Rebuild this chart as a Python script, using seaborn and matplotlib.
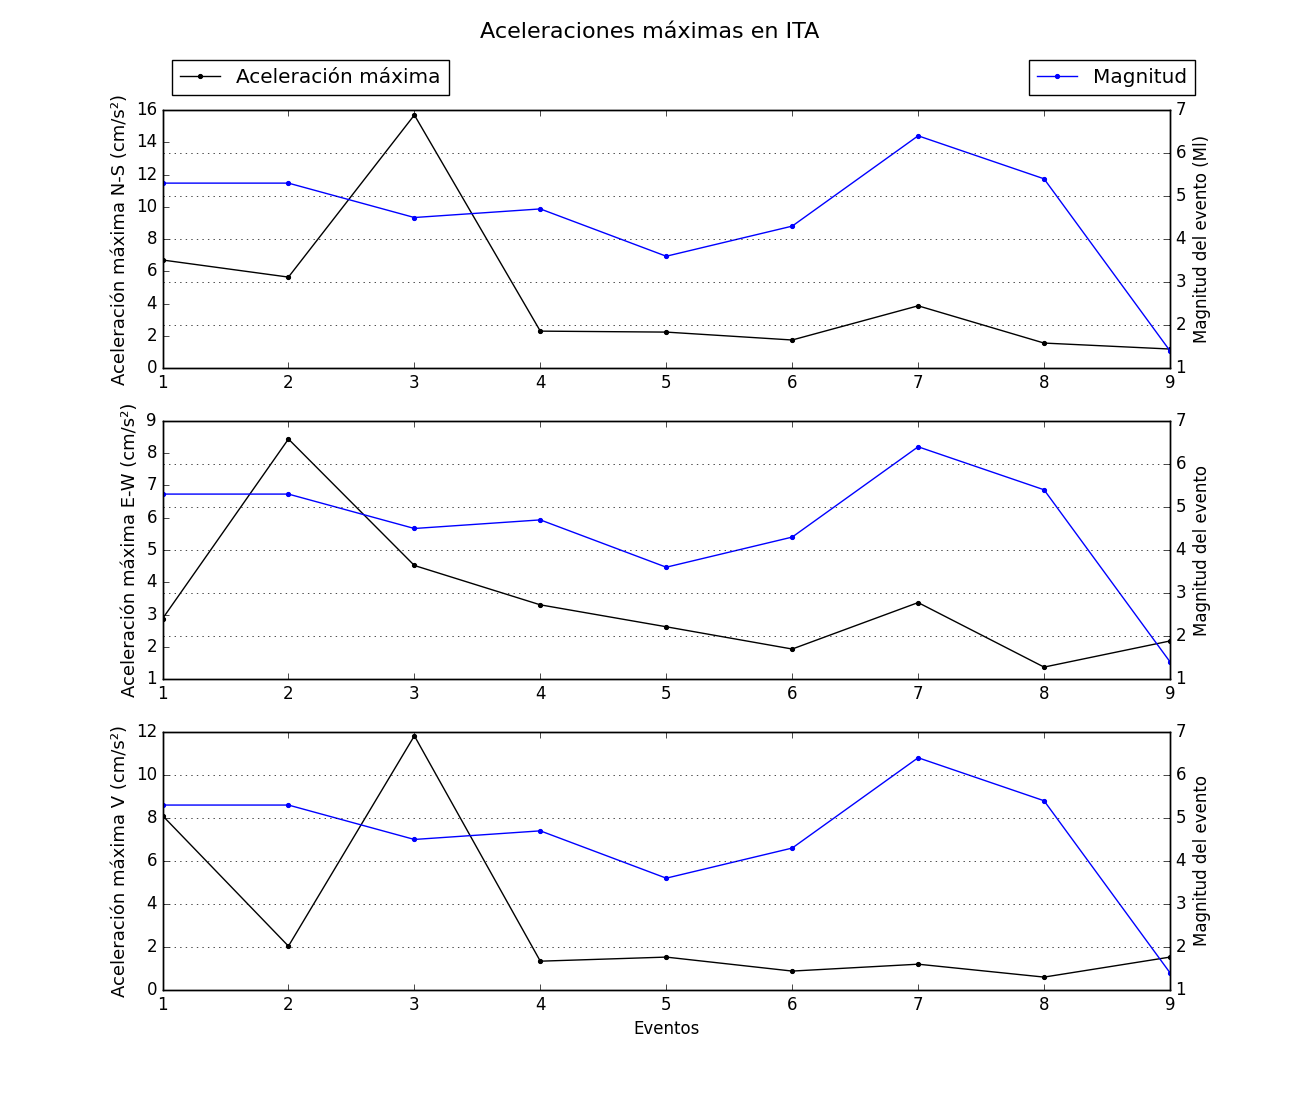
import seaborn as sns
import matplotlib.pyplot as plt
import pandas as pd

# Data
eventos = [1, 2, 3, 4, 5, 6, 7, 8, 9]
magnitud = [5.3, 5.3, 4.5, 4.7, 3.6, 4.3, 6.4, 5.4, 1.4]
acel_ns = [6.70, 5.64, 15.69, 2.29, 2.23, 1.74, 3.86, 1.55, 1.18]
acel_ew = [2.87, 8.44, 4.52, 3.30, 2.62, 1.93, 3.37, 1.37, 2.18]
acel_v = [8.11, 2.04, 11.82, 1.34, 1.53, 0.88, 1.20, 0.60, 1.53]

data = pd.DataFrame({
    "Evento": eventos,
    "Magnitud": magnitud,
    "NS": acel_ns,
    "EW": acel_ew,
    "V": acel_v,
})

# Old matplotlib look
plt.style.use("classic")
plt.rcParams["font.family"] = ["DejaVu Sans"]

fig, axs = plt.subplots(3, 1, figsize=(13, 11), dpi=100)
fig.patch.set_facecolor("white")
fig.subplots_adjust(left=0.125, right=0.9, top=0.9, bottom=0.1, hspace=0.205)

panels = [
    ("NS", "Aceleración máxima N-S (cm/s²)", (0, 16), "Magnitud del evento (Ml)"),
    ("EW", "Aceleración máxima E-W (cm/s²)", (1, 9), "Magnitud del evento"),
    ("V", "Aceleración máxima V (cm/s²)", (0, 12), "Magnitud del evento"),
]

for i, (col, ylabel, ylim, rlabel) in enumerate(panels):
    ax = axs[i]
    ax2 = ax.twinx()

    sns.lineplot(data=data, x="Evento", y=col, marker=".", color="k", linewidth=1,
                 markeredgecolor="k", markersize=6, label="Aceleración máxima",
                 legend=False, ax=ax)
    sns.lineplot(data=data, x="Evento", y="Magnitud", marker=".", color="b", linewidth=1,
                 markeredgecolor="b", markersize=6, label="Magnitud",
                 legend=False, ax=ax2)

    ax.set_xlim(1, 9)
    ax.set_xticks(eventos)
    ax.set_ylim(*ylim)
    ax.set_ylabel(ylabel, fontsize=13)
    ax.set_xlabel("Eventos" if i == 2 else "", fontsize=12)
    ax.tick_params(right=False)

    ax2.set_ylim(1, 7)
    ax2.set_ylabel(rlabel, fontsize=12)
    ax2.tick_params(left=False)
    ax2.grid(True, axis="y", linestyle=":", color="k")
    ax2.grid(False, axis="x")
    ax.grid(False)

    for a in (ax, ax2):
        if a.get_legend() is not None:
            a.get_legend().remove()

    if i == 0:
        ax.legend(loc="lower left", bbox_to_anchor=(0.0099, 1.058), borderaxespad=0,
                  numpoints=1, fontsize=14.4, fancybox=False)
        ax2.legend(loc="lower right", bbox_to_anchor=(1.0248, 1.058), borderaxespad=0,
                   numpoints=1, fontsize=14.4, fancybox=False)

fig.suptitle("Aceleraciones máximas en ITA", fontsize=16, y=0.98)

plt.savefig("out.png", dpi=100, facecolor="white")
